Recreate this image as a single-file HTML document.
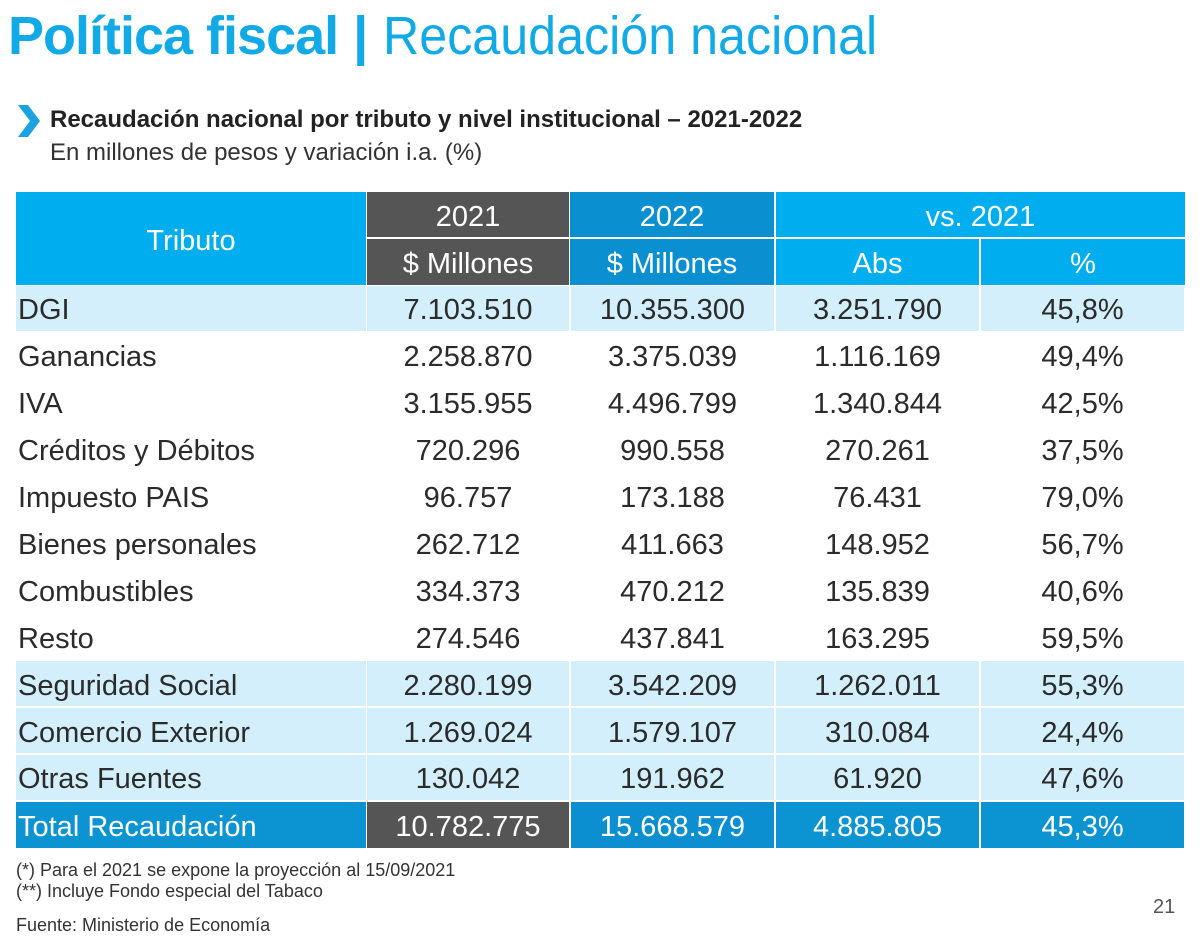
<!DOCTYPE html>
<html><head><meta charset="utf-8">
<style>
body{margin:0;width:1200px;height:941px;background:#fff;position:relative;overflow:hidden;font-family:"Liberation Sans",sans-serif;color:#2b2b2b}
.a{position:absolute}
.c{position:absolute;display:flex;align-items:center;justify-content:center;font-size:29px;box-sizing:border-box;padding-top:5px}
.l{justify-content:flex-start;padding-left:2px}
</style></head><body>
<div class="a" style="left:8px;top:4px;font-size:54px;color:#11a9e6;white-space:nowrap;line-height:64px"><b style="letter-spacing:-1px">Política fiscal</b> <b>|</b> <span style="font-weight:normal;display:inline-block;transform:scaleX(0.93);transform-origin:left">Recaudación nacional</span></div>
<svg class="a" style="left:16px;top:104px" width="26" height="34"><polygon points="2,1 12,1 24,17 12,33 2,33 14,17" fill="#1aa3e0"/></svg>
<div class="a" style="left:50px;top:106px;font-size:24px;font-weight:bold;color:#222;white-space:nowrap">Recaudación nacional por tributo y nivel institucional – 2021-2022</div>
<div class="a" style="left:50px;top:139px;font-size:24px;color:#333">En millones de pesos y variación i.a. (%)</div>
<div id="tbl"></div>
<div class="a" style="left:16px;top:860px;font-size:18px;color:#333">(*) Para el 2021 se expone la proyección al 15/09/2021</div>
<div class="a" style="left:16px;top:881px;font-size:18px;color:#333">(**) Incluye Fondo especial del Tabaco</div>
<div class="a" style="left:16px;top:915px;font-size:18px;color:#333">Fuente: Ministerio de Economía</div>
<div class="a" style="left:1153px;top:896px;font-size:20px;color:#555">21</div>
<script>
const tributos=["DGI","Ganancias","IVA","Créditos y Débitos","Impuesto PAIS","Bienes personales","Combustibles","Resto","Seguridad Social","Comercio Exterior","Otras Fuentes"];
const v2021=["7.103.510","2.258.870","3.155.955","720.296","96.757","262.712","334.373","274.546","2.280.199","1.269.024","130.042"];
const v2022=["10.355.300","3.375.039","4.496.799","990.558","173.188","411.663","470.212","437.841","3.542.209","1.579.107","191.962"];
const vAbs=["3.251.790","1.116.169","1.340.844","270.261","76.431","148.952","135.839","163.295","1.262.011","310.084","61.920"];
const vPct=["45,8%","49,4%","42,5%","37,5%","79,0%","56,7%","40,6%","59,5%","55,3%","24,4%","47,6%"];
const shaded=[1,0,0,0,0,0,0,0,1,1,1];
const total=["Total Recaudación","10.782.775","15.668.579","4.885.805","45,3%"];
const T=document.getElementById('tbl');
const X=[16,366,570,775,980,1185];
const CY=['#00adef','#555555','#0a8fd0','#00adef'];
function cell(x,y,w,h,txt,bg,col,left,name){
  const d=document.createElement('div');d.className='c'+(left?' l':'');
  d.style.left=x+'px';d.style.top=y+'px';d.style.width=w+'px';d.style.height=h+'px';
  if(bg)d.style.background=bg;d.style.color=col;d.textContent=txt;
  
  
  T.appendChild(d);return d;
}
cell(X[0],192,X[1]-X[0],93,"Tributo",CY[0],'#fff',false,'header-tributo');
cell(X[1]+1,192,X[2]-X[1]-2,45,"2021",CY[1],'#fff',false,'header-2021');
cell(X[1]+1,239,X[2]-X[1]-2,46,"$ Millones",CY[1],'#fff',false,'header-2021-unit');
cell(X[2],192,X[3]-X[2]-1,45,"2022",CY[2],'#fff',false,'header-2022');
cell(X[2],239,X[3]-X[2]-1,46,"$ Millones",CY[2],'#fff',false,'header-2022-unit');
cell(X[3]+1,192,X[5]-X[3]-1,45,"vs. 2021",CY[3],'#fff',false,'header-vs-2021');
cell(X[3]+1,239,X[4]-X[3]-2,46,"Abs",CY[3],'#fff',false,'header-abs');
cell(X[4]+1,239,X[5]-X[4]-1,46,"%",CY[3],'#fff',false,'header-pct');
const RH=46.9,Y0=285;
for(let i=0;i<tributos.length;i++){
  const y=Y0+i*RH+1,h=RH-2,bg=shaded[i]?'#d2effb':null;
  const vals=[tributos[i],v2021[i],v2022[i],vAbs[i],vPct[i]];
  for(let j=0;j<5;j++){
    cell(X[j]+(j?1:0),y,X[j+1]-X[j]-(j?2:0),h,vals[j],bg,'#2b2b2b',j==0,'cell-row'+i+'-col'+j);
  }
}
const yt=Y0+11*RH+1;
const tb=['#0b93d2','#555555','#0b8fd0','#0b93d2','#0b93d2'];
for(let j=0;j<5;j++){
  cell(X[j]+(j?1:0),yt,X[j+1]-X[j]-(j?2:0),RH-1,total[j],tb[j],'#fff',j==0,'total-col'+j);
}
</script>
</body></html>
